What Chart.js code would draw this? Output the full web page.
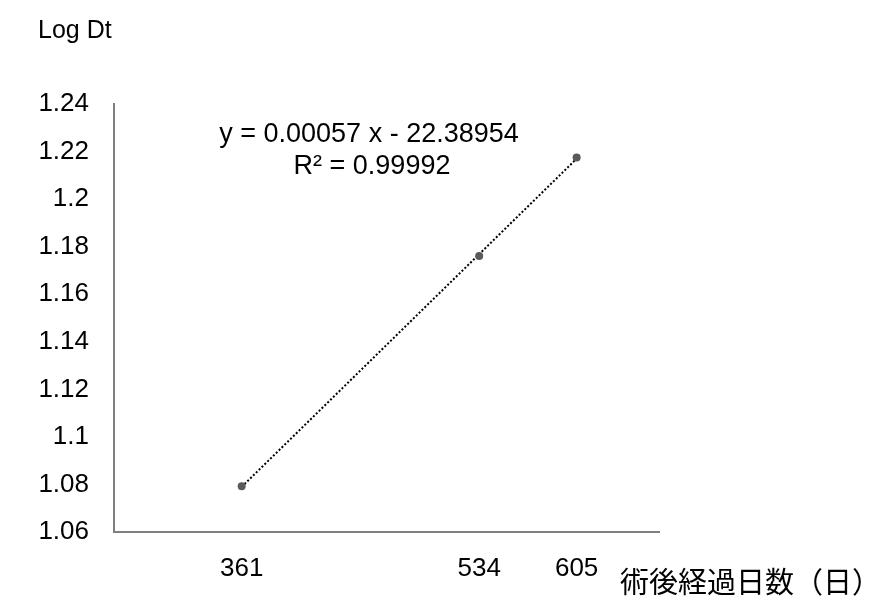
<!DOCTYPE html>
<html>
<head>
<meta charset="utf-8">
<script src="https://cdn.jsdelivr.net/npm/chart.js@4/dist/chart.umd.min.js"></script>
<style>
  html, body { margin: 0; padding: 0; background: #ffffff; }
  #wrap { width: 877px; height: 601px; position: relative; }
</style>
</head>
<body>
<div id="wrap"><canvas id="c"></canvas></div>
<script>
// Days after surgery and log of Dt at each observation
const days = [361, 534, 605];
const logDt = [1.0792, 1.1761, 1.2175];

// Axis ticks
const xTickValues = [361, 534, 605];
const yTickValues = [1.06, 1.08, 1.10, 1.12, 1.14, 1.16, 1.18, 1.20, 1.22, 1.24];
const yTickLabels = ['1.06', '1.08', '1.1', '1.12', '1.14', '1.16', '1.18', '1.2', '1.22', '1.24'];

// Texts
const yTitle = 'Log Dt';
const xTitle = '術後経過日数（日）';
const equationText = 'y = 0.00057 x - 22.38954';
const r2Text = 'R² = 0.99992';

// Least-squares trend line over the observed range
function fitLine(xs, ys) {
  const n = xs.length;
  const mx = xs.reduce((a, b) => a + b, 0) / n;
  const my = ys.reduce((a, b) => a + b, 0) / n;
  let sxy = 0, sxx = 0;
  for (let i = 0; i < n; i++) { sxy += (xs[i] - mx) * (ys[i] - my); sxx += (xs[i] - mx) ** 2; }
  const slope = sxy / sxx;
  return { slope, intercept: my - slope * mx };
}
const fit = fitLine(days, logDt);
const xLo = Math.min(...days), xHi = Math.max(...days);
const trendPoints = [
  { x: xLo, y: fit.intercept + fit.slope * xLo },
  { x: xHi, y: fit.intercept + fit.slope * xHi }
];

const FONT = '"Liberation Sans", Arial, sans-serif';
const CJK = '"Noto Sans CJK JP", "Noto Sans", sans-serif';

const textPlugin = {
  id: 'chartTexts',
  afterDraw(chart) {
    const ctx = chart.ctx;
    const area = chart.chartArea;
    ctx.save();
    ctx.fillStyle = '#000000';
    ctx.textBaseline = 'middle';
    ctx.font = '25px ' + FONT;
    ctx.textAlign = 'left';
    ctx.fillText(yTitle, 38, 31);
    ctx.font = '29px ' + CJK;
    ctx.fillText(xTitle, 620, 582);
    ctx.font = '27px ' + FONT;
    ctx.textAlign = 'center';
    ctx.fillText(equationText, area.left + 255, 135);
    ctx.fillText(r2Text, area.left + 258, 167);
    ctx.restore();
  }
};

new Chart(document.getElementById('c'), {
  type: 'scatter',
  data: {
    datasets: [
      {
        label: 'trend',
        data: trendPoints,
        showLine: true,
        borderColor: '#000000',
        borderWidth: 2,
        borderDash: [2, 2],
        pointRadius: 0,
        fill: false,
        order: 2
      },
      {
        label: 'Log Dt',
        data: days.map((d, i) => ({ x: d, y: logDt[i] })),
        pointRadius: 4,
        pointBackgroundColor: '#5a5a5a',
        pointBorderColor: '#5a5a5a',
        pointBorderWidth: 0,
        order: 1
      }
    ]
  },
  options: {
    responsive: true,
    maintainAspectRatio: false,
    animation: false,
    devicePixelRatio: 1,
    layout: { padding: { top: 104, right: 218, bottom: 0, left: 0 } },
    plugins: {
      legend: { display: false },
      tooltip: { enabled: false },
      title: { display: false }
    },
    scales: {
      x: {
        type: 'linear',
        min: 268,
        max: 665,
        grid: { display: false, drawTicks: false },
        border: { display: true, color: '#7f7f7f', width: 2 },
        ticks: {
          color: '#000000',
          font: { family: FONT, size: 26 },
          padding: 21,
          maxRotation: 0,
          autoSkip: false
        },
        afterBuildTicks(scale) { scale.ticks = xTickValues.map(v => ({ value: v })); },
        afterFit(scale) { scale.height = 69; }
      },
      y: {
        type: 'linear',
        min: yTickValues[0],
        max: yTickValues[yTickValues.length - 1],
        grid: { display: false, drawTicks: false },
        border: { display: true, color: '#7f7f7f', width: 2 },
        ticks: {
          color: '#000000',
          font: { family: FONT, size: 26 },
          padding: 25,
          autoSkip: false,
          callback(value, index) { return yTickLabels[index]; }
        },
        afterBuildTicks(scale) { scale.ticks = yTickValues.map(v => ({ value: v })); },
        afterFit(scale) { scale.width = 114; }
      }
    }
  },
  plugins: [textPlugin]
});
</script>
</body>
</html>
